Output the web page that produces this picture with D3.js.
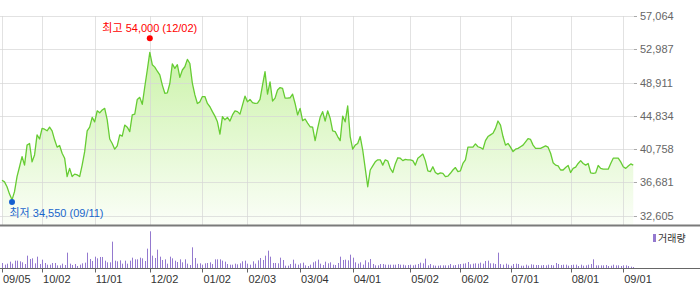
<html>
<head>
    <style>
        body {margin:0; background:#fff;}
        text {font-family: "Liberation Sans", Arial, "Noto Sans CJK KR", sans-serif;}
    </style>
    <script src="https://d3js.org/d3.v7.min.js"></script>
</head>
<body>
    <script>
        //Daily closing prices, 09/05 .. 09/04 (one per trading day)
        var closes = [
            36950,36750,36150,35250,34550,35550,37400,38600,39850,38800,
            41250,41450,39200,40050,42500,42000,43300,43200,43000,43450,
            43000,41900,41000,41200,40250,39650,37400,38400,37400,37700,
            37600,37400,38800,40450,43000,43450,44650,44100,45450,45200,
            45550,45750,44350,42000,41450,40750,41150,42500,42350,43700,
            43450,42900,44950,45050,46850,47100,46250,48400,50450,52600,
            51100,50800,50300,49850,48600,47600,47650,48800,51200,50650,
            51100,49550,50450,50850,51750,51250,48800,47400,46350,46550,
            47200,47200,46350,45950,45350,44800,44100,42600,44750,44350,
            44650,44200,44950,45450,45350,45050,46150,47250,46550,46850,
            46450,46350,46400,46850,48600,50250,47500,49000,46650,47000,
            48000,48300,48200,47000,47000,47050,47500,46350,44950,45750,
            44250,44450,43950,43500,43450,41800,43300,44650,45350,44200,
            45450,44550,43000,42900,42300,41800,44800,44100,46050,42300,
            40750,41250,41450,42300,40650,38400,36150,38200,38700,39200,
            39450,39450,38800,39450,39300,38400,37900,38950,39700,39650,
            39350,39500,39450,39450,39350,38800,39650,39900,40150,39350,
            38100,38000,38600,37900,37700,37850,37800,37400,37450,37800,
            38200,38500,38000,38100,39000,39450,41000,41000,41000,41400,
            41050,40950,40750,41800,42300,42500,42700,43300,44200,43700,
            42300,41250,41450,41000,40450,40750,40850,41050,41250,41650,
            42050,41950,41250,40850,40850,40850,41000,41150,41000,40250,
            39100,38800,38700,38200,38200,38500,38750,37900,38400,38550,
            39000,39350,39000,38800,39000,37850,37800,37850,38750,38400,
            38300,38300,38300,39000,39650,39650,39650,39200,38600,38400,
            38700,38950,38800
        ];

        //Daily volume (thousand shares)
        var volumes = [
            150,100,130,190,130,220,220,200,170,120,
            370,270,290,140,340,120,250,150,100,100,
            150,150,80,80,130,90,460,130,90,120,
            60,100,140,160,460,270,210,340,290,330,
            330,220,170,170,790,220,200,230,130,220,
            130,220,310,260,260,310,290,210,580,1100,
            370,300,550,340,240,260,130,340,290,220,
            180,260,170,260,130,90,620,300,130,140,
            100,140,150,170,120,260,260,260,220,190,
            120,100,100,130,110,140,200,220,130,100,
            200,130,230,300,240,370,520,340,150,150,
            140,310,240,70,70,120,250,130,100,140,
            160,80,60,100,170,200,250,130,90,190,
            140,170,100,90,150,340,240,250,230,400,
            310,170,130,170,100,230,170,270,120,80,
            80,120,120,100,100,100,100,100,120,100,
            100,80,90,100,80,100,120,160,140,280,
            80,120,80,70,70,80,80,80,80,120,
            80,90,110,120,130,140,180,110,130,140,
            130,160,130,210,220,140,140,120,460,120,
            100,130,100,70,120,130,120,70,70,100,
            70,110,100,90,90,80,90,80,100,90,
            80,150,120,90,100,100,70,90,100,100,
            60,100,70,80,100,120,260,80,80,80,
            80,90,60,70,100,80,80,60,80,80,
            60,40,30
        ];

        //Month ticks: trading-day index and label
        var tickIdx = [0,16,37,59,80,98,119,140,163,183,203,227,248];
        var tickLabels = ["09/05","10/02","11/01","12/02","01/02","02/03","03/04",
                          "04/01","05/02","06/02","07/01","08/01","09/01"];

        //Price axis ticks
        var priceTicks = [57064,52987,48911,44834,40758,36681,32605];

        //High / low markers
        var highIdx = 59, highValue = 54000, highDate = "12/02";
        var lowIdx = 4, lowValue = 34550, lowDate = "09/11";

        var svg_width = 700, svg_height = 289;
        var plotRight = 634;
        var priceTop = 16, priceBottom = 225;
        var volBase = 268;

        var x = d3.scaleLinear().domain([0, closes.length - 1]).range([2, 2 + (closes.length - 1) * 2.505]);
        var y = d3.scaleLinear().domain([32605, 57064]).range([215.7, 16]);
        var yv = d3.scaleLinear().domain([0, d3.max(volumes)]).range([volBase, 231.3]);
        var fmt = d3.format(",");

        var svg = d3.select("body").append("svg")
            .attr("width", svg_width)
            .attr("height", svg_height);

        var grad = svg.append("defs").append("linearGradient")
            .attr("id", "fillGrad")
            .attr("gradientUnits", "userSpaceOnUse")
            .attr("x1", 0).attr("y1", 40).attr("x2", 0).attr("y2", priceBottom);
        grad.append("stop").attr("offset", 0).attr("stop-color", "#c8f2a4");
        grad.append("stop").attr("offset", 1).attr("stop-color", "#fbfef8");

        //~~~~~~~~~~~~~~~~~~~~~~~~~~~~~~~~
        //Price panel
        //~~~~~~~~~~~~~~~~~~~~~~~~~~~~~~~~
        svg.append("path")
            .datum(closes)
            .attr("fill", "url(#fillGrad)")
            .attr("d", d3.area()
                .x((d, i) => x(i))
                .y0(priceBottom)
                .y1(d => y(d)));

        //grid
        svg.append("g")
            .selectAll("line")
            .data(priceTicks)
            .join("line")
            .attr("x1", 0).attr("x2", plotRight)
            .attr("y1", d => Math.round(y(d)) + 0.5)
            .attr("y2", d => Math.round(y(d)) + 0.5)
            .attr("stroke", "#d6d6d6")
            .attr("stroke-opacity", 0.7);

        svg.append("g")
            .selectAll("line")
            .data(tickIdx)
            .join("line")
            .attr("x1", d => Math.round(x(d)) + 0.5)
            .attr("x2", d => Math.round(x(d)) + 0.5)
            .attr("y1", priceTop).attr("y2", priceBottom)
            .attr("stroke", "#d6d6d6")
            .attr("stroke-opacity", 0.7);

        svg.append("path")
            .datum(closes)
            .attr("fill", "none")
            .attr("stroke", "#66cc33")
            .attr("stroke-width", 1.3)
            .attr("stroke-linejoin", "round")
            .attr("d", d3.line()
                .x((d, i) => x(i))
                .y(d => y(d)));

        //right axis
        var ra = svg.append("g");
        ra.selectAll("line")
            .data(priceTicks)
            .join("line")
            .attr("x1", plotRight).attr("x2", plotRight + 3)
            .attr("y1", d => Math.round(y(d)) + 0.5)
            .attr("y2", d => Math.round(y(d)) + 0.5)
            .attr("stroke", "#aaa");
        ra.selectAll("text")
            .data(priceTicks)
            .join("text")
            .attr("x", 640)
            .attr("y", d => y(d) + 4)
            .attr("font-size", "11px")
            .attr("fill", "#666")
            .text(d => fmt(d));

        //high / low
        svg.append("circle")
            .attr("cx", x(highIdx)).attr("cy", y(highValue) - 2.7)
            .attr("r", 3).attr("fill", "#ff0000");
        svg.append("text")
            .attr("x", x(highIdx)).attr("y", 32)
            .attr("text-anchor", "middle")
            .attr("font-size", "11px")
            .attr("fill", "#ff0000")
            .text("최고 " + fmt(highValue) + " (" + highDate + ")");

        svg.append("circle")
            .attr("cx", x(lowIdx)).attr("cy", y(lowValue) + 2.2)
            .attr("r", 3).attr("fill", "#1560d0");
        svg.append("text")
            .attr("x", 9.5).attr("y", 216.5)
            .attr("font-size", "11px")
            .attr("fill", "#1a66cc")
            .text("최저 " + fmt(lowValue) + " (" + lowDate + ")");

        //~~~~~~~~~~~~~~~~~~~~~~~~~~~~~~~~
        //Volume panel
        //~~~~~~~~~~~~~~~~~~~~~~~~~~~~~~~~
        svg.append("g")
            .attr("fill", "#9479cf")
            .selectAll("rect")
            .data(volumes)
            .join("rect")
            .attr("x", (d, i) => Math.round(x(i)))
            .attr("width", 1)
            .attr("y", d => yv(d))
            .attr("height", d => volBase - yv(d));

        svg.append("rect")
            .attr("x", 653).attr("y", 234)
            .attr("width", 3).attr("height", 8)
            .attr("fill", "#9479cf");
        svg.append("text")
            .attr("x", 658).attr("y", 242)
            .attr("font-size", "10px")
            .attr("fill", "#333")
            .text("거래량");

        //panel borders
        svg.append("line")
            .attr("x1", 0).attr("x2", svg_width)
            .attr("y1", 225.5).attr("y2", 225.5)
            .attr("stroke", "#7a7a7a").attr("stroke-width", 2);
        svg.append("line")
            .attr("x1", 0).attr("x2", svg_width)
            .attr("y1", volBase + 0.5).attr("y2", volBase + 0.5)
            .attr("stroke", "#666");

        //month axis
        var xa = svg.append("g");
        xa.selectAll("line")
            .data(tickIdx)
            .join("line")
            .attr("x1", d => Math.round(x(d)) + 0.5)
            .attr("x2", d => Math.round(x(d)) + 0.5)
            .attr("y1", volBase).attr("y2", volBase + 4.5)
            .attr("stroke", "#666");
        xa.selectAll("text")
            .data(tickIdx)
            .join("text")
            .attr("x", d => x(d) + 1)
            .attr("y", 283)
            .attr("font-size", "11px")
            .attr("fill", "#333")
            .text((d, i) => tickLabels[i]);
    </script>
</body>
</html>
